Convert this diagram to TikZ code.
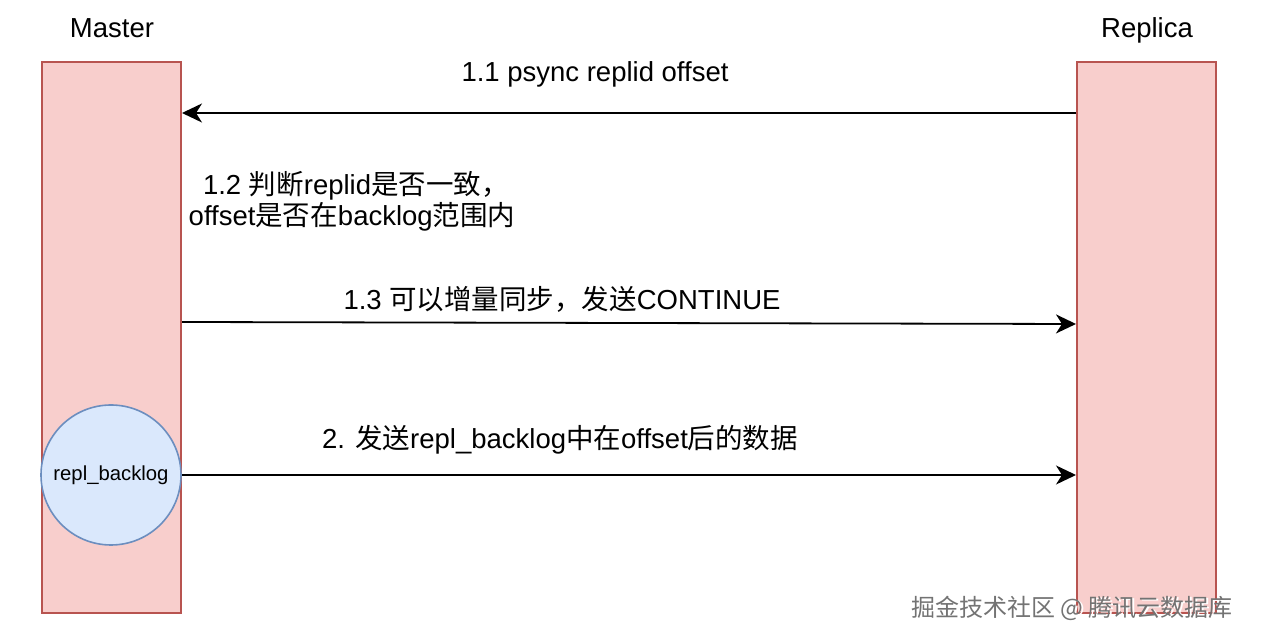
\documentclass[tikz,border=0pt]{standalone}
\usepackage{fontspec}
\setmainfont{Liberation Sans}
\newfontfamily\cjk{Noto Sans CJK SC}
\usetikzlibrary{arrows.meta}
\definecolor{redfill}{HTML}{F8CECC}
\definecolor{redline}{HTML}{B85450}
\definecolor{bluefill}{HTML}{DAE8FC}
\definecolor{blueline}{HTML}{6C8EBF}
\begin{document}
\begin{tikzpicture}[x=1pt,y=1pt,
  lifebox/.style={draw=redline,fill=redfill,line width=2pt,minimum width=139pt,minimum height=551pt,inner sep=0pt},
  buf/.style={circle,draw=blueline,fill=bluefill,line width=1.6pt,minimum size=140pt,inner sep=0pt,font=\fontsize{20.3}{23}\selectfont},
  lbl/.style={font=\fontsize{27.5}{30}\selectfont,inner sep=0pt,align=center},
  arr/.style={line width=1.8pt,-{Stealth[length=20pt,width=19pt,inset=6pt]}},
  wm/.style={font=\cjk\fontsize{24}{26}\selectfont,text=black!55,inner sep=0pt}
]
\useasboundingbox (0,0) rectangle (1266,644);
\node[lifebox] (master) at (111.5,306.5) {};
\node[lifebox] (replica) at (1146.5,306.5) {};
\node[buf] (backlog) at (111,169) {repl\_backlog};
\node[lbl,anchor=base] (tmaster) at (112,606.5) {Master};
\node[lbl,anchor=base] (treplica) at (1147,606.5) {Replica};
\coordinate (y11) at (0,531);
\coordinate (y13a) at (0,322);
\coordinate (y13b) at (0,320);
\draw[arr] (replica.west |- y11) -- (master.east |- y11);
\node[lbl] (l11) at (595,570) {1.1 psync replid offset};
\node[lbl] (l12) at (352,443) {\ 1.2 {\cjk 判断}replid{\cjk 是否一致，}\\[1pt]offset{\cjk 是否在}backlog{\cjk 范围内}};
\draw[arr] (master.east |- y13a) -- (replica.west |- y13b);
\node[lbl] (l13) at (562,345) {1.3 {\cjk 可以增量同步，发送}CONTINUE};
\draw[arr] (backlog.east) -- (replica.west |- backlog.east);
\node[lbl] (l2) at (560,204) {2. {\cjk 发送}repl\_backlog{\cjk 中在}offset{\cjk 后的数据}};
\node[wm] (wms) at (1073.5,34.5) {\textcolor{white}{掘金技术社区 @ 腾讯云数据库}};
\node[wm] (wmark) at (1072,36) {掘金技术社区 @ 腾讯云数据库};
\end{tikzpicture}
\end{document}
